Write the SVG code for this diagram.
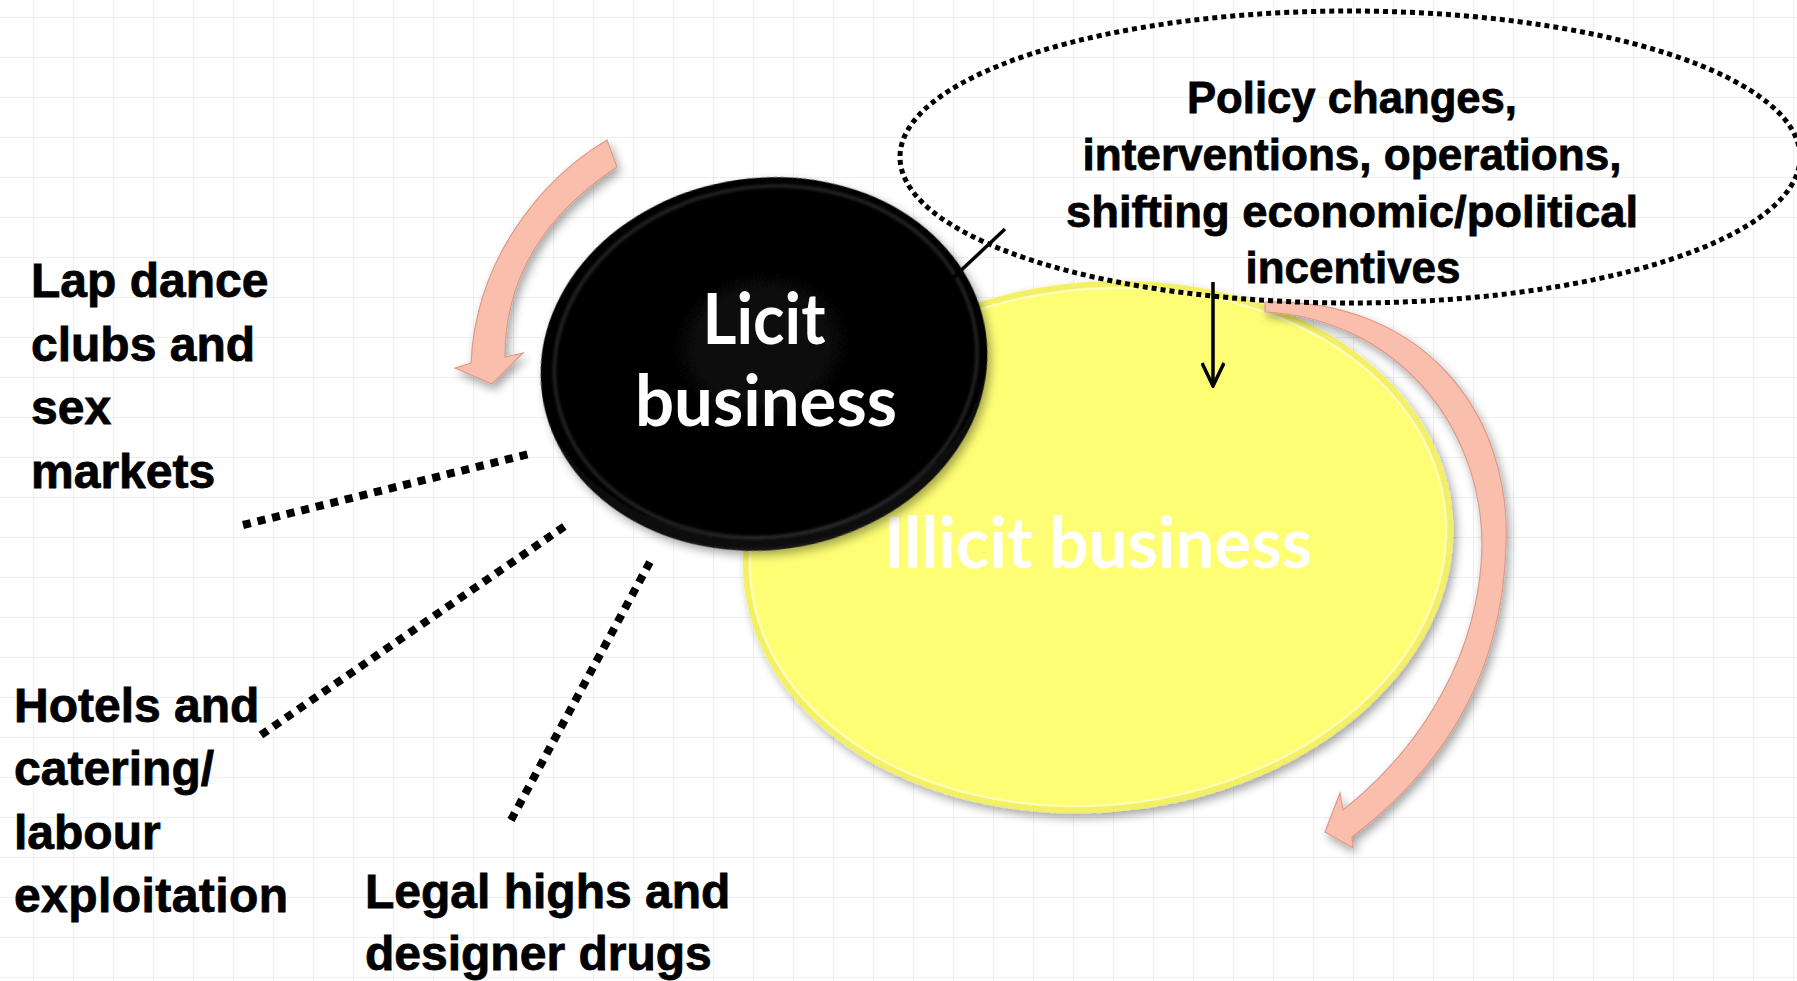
<svg xmlns="http://www.w3.org/2000/svg" width="1797" height="981" viewBox="0 0 1797 981">
<defs>
<pattern id="grid" patternUnits="userSpaceOnUse" x="33" y="17" width="40" height="40">
<path d="M 0 0.5 H 40 M 0.5 0 V 40" fill="none" stroke="#efefef" stroke-width="1"/>
</pattern>
<filter id="shadow" x="-10%" y="-10%" width="125%" height="130%">
<feDropShadow dx="3" dy="5" stdDeviation="5" flood-color="#000" flood-opacity="0.35"/>
</filter>
<filter id="soft" x="-10%" y="-10%" width="120%" height="120%">
<feGaussianBlur stdDeviation="1.5"/>
</filter>
<radialGradient id="blackGrad" cx="50%" cy="45%" r="55%">
<stop offset="0" stop-color="#0a0a0a"/>
<stop offset="0.9" stop-color="#000"/>
<stop offset="1" stop-color="#151515"/>
</radialGradient>
<marker id="vhead" viewBox="0 0 26 24" refX="24" refY="12" markerWidth="26" markerHeight="24" markerUnits="userSpaceOnUse" orient="auto">
<path d="M 1 1 L 24 12 L 1 23" fill="none" stroke="#000" stroke-width="3.5"/>
</marker>
<style>
.label { font-family: "Liberation Sans", Arial, sans-serif; font-weight: bold; font-size: 48px; fill: #000; stroke: #000; stroke-width: 0.8px; }
.policy { font-family: "Liberation Sans", Arial, sans-serif; font-weight: bold; font-size: 45px; fill: #000; text-anchor: middle; stroke: #000; stroke-width: 0.8px; }
.inner { font-family: Lato, "Open Sans", sans-serif; font-weight: bold; font-size: 70px; fill: #fff; text-anchor: middle; }
.thickdot { fill: none; stroke: #000; stroke-width: 8; stroke-dasharray: 8 7; }
.pink { fill: #f9bfac; stroke: #dc9b88; stroke-width: 1.2; }
</style>
</defs>
<rect width="1797" height="981" fill="#fff"/>
<rect width="1797" height="981" fill="url(#grid)"/>

<g id="node-illicit">
<g transform="rotate(-6 1098 547)" filter="url(#shadow)">
<ellipse cx="1098" cy="547" rx="356" ry="265" fill="#f3f064"/>
<ellipse cx="1098" cy="547" rx="349" ry="258" fill="#fefe74" stroke="#ffffc8" stroke-width="2"/>
</g>
<text class="inner" x="1098" y="568" textLength="428" lengthAdjust="spacingAndGlyphs">Illicit business</text>
</g>

<g id="node-licit">
<g transform="rotate(-8 764 364)">
<ellipse cx="764" cy="364" rx="224" ry="186" fill="url(#blackGrad)" filter="url(#shadow)"/>
<ellipse cx="766" cy="362" rx="212" ry="175" fill="none" stroke="#3c3c3c" stroke-width="3" opacity="0.7" filter="url(#soft)"/>
</g>
<text class="inner" x="764" y="344" textLength="123" lengthAdjust="spacingAndGlyphs">Licit</text>
<text class="inner" x="766" y="426" textLength="262" lengthAdjust="spacingAndGlyphs">business</text>
</g>

<g id="connectors">
<path class="thickdot" d="M 243 525 L 529 454"/>
<path class="thickdot" d="M 261 735 L 568 524"/>
<path class="thickdot" d="M 511 820 L 651 560"/>
<path d="M 1005 229 L 953 278" fill="none" stroke="#000" stroke-width="3.5"/>
<path d="M 1213 282 L 1213 386" fill="none" stroke="#000" stroke-width="3.5" marker-end="url(#vhead)"/>
<path class="pink" filter="url(#shadow)" d="M 607 140 C 540 180 476 260 471 363 L 455 368 L 492 384 L 523 353 L 505 357 C 505 270 552 210 617 167 Z"/>
<path class="pink" filter="url(#shadow)" d="M 1265 302 C 1420 298 1512 410 1506 546 C 1502 680 1440 770 1352 837 L 1353 848 L 1325 832 L 1340 793 L 1343 810 C 1425 745 1480 650 1482 546 C 1482 420 1390 318 1265 312 Z"/>
</g>

<g id="node-policy">
<ellipse cx="1350" cy="157" rx="450" ry="146" fill="none" stroke="#000" stroke-width="5" stroke-dasharray="5 4"/>
<text class="policy" x="1352" y="113" textLength="330" lengthAdjust="spacingAndGlyphs">Policy changes,</text>
<text class="policy" x="1352" y="170" textLength="539" lengthAdjust="spacingAndGlyphs">interventions, operations,</text>
<text class="policy" x="1352" y="227" textLength="572" lengthAdjust="spacingAndGlyphs">shifting economic/political</text>
<text class="policy" x="1353" y="283" textLength="215" lengthAdjust="spacingAndGlyphs">incentives</text>
</g>

<g id="label-lapdance">
<text class="label" x="31" y="297">Lap dance</text>
<text class="label" x="31" y="361">clubs and</text>
<text class="label" x="31" y="424">sex</text>
<text class="label" x="31" y="488">markets</text>
</g>

<g id="label-hotels">
<text class="label" x="14" y="722">Hotels and</text>
<text class="label" x="14" y="785">catering/</text>
<text class="label" x="14" y="849">labour</text>
<text class="label" x="14" y="912" textLength="274">exploitation</text>
</g>

<g id="label-legal">
<text class="label" x="365" y="908">Legal highs and</text>
<text class="label" x="365" y="970">designer drugs</text>
</g>
</svg>
